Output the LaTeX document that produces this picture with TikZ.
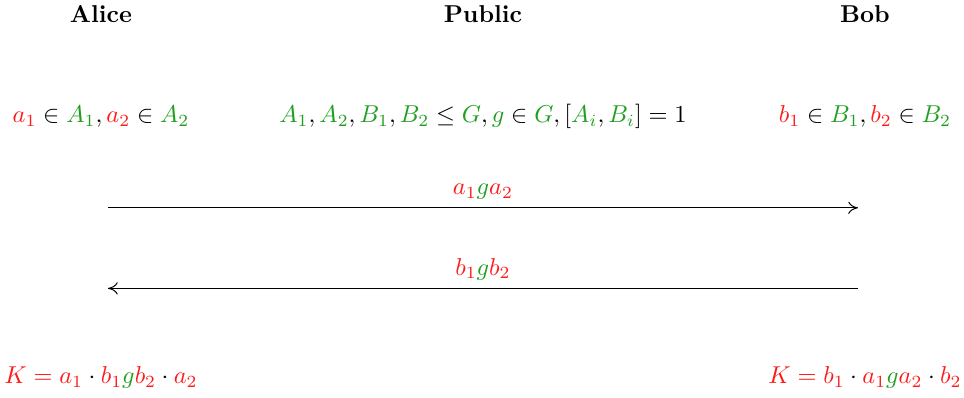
\documentclass[tikz,border=0pt]{standalone}
\usepackage{amsmath,amssymb}
\usepackage{xcolor}
\usetikzlibrary{positioning,arrows.meta}
\definecolor{secret}{HTML}{FF1A1A}
\definecolor{pub}{HTML}{1F9F1F}
\newcommand{\sk}[1]{\textcolor{secret}{#1}}
\newcommand{\pk}[1]{\textcolor{pub}{#1}}

\begin{document}
\begin{tikzpicture}[>={To[length=4pt,width=5pt]}]
  \useasboundingbox (-1.454,-5.515) rectangle (12.426,0.202);
  % parties
  \node (alice) at (0,0) {\textbf{Alice}};
  \node (public) at (5.5,0) {\textbf{Public}};
  \node (bob) at (11,0) {\textbf{Bob}};
  % private choices and public data
  \node (aliceSec) at (0,-1.48) {$\sk{a_1} \in \pk{A_1}, \sk{a_2} \in \pk{A_2}$};
  \node (pubData) at (5.5,-1.48) {$\pk{A_1}, \pk{A_2}, \pk{B_1}, \pk{B_2} \le \pk{G}, \pk{g} \in \pk{G}, [\pk{A_i}, \pk{B_i}] = 1$};
  \node (bobSec) at (11,-1.48) {$\sk{b_1} \in \pk{B_1}, \sk{b_2} \in \pk{B_2}$};
  % exchange
  \coordinate (aliceOut) at (0.1,-2.79);
  \coordinate (bobIn) at (10.9,-2.79);
  \coordinate (bobOut) at (10.9,-3.95);
  \coordinate (aliceIn) at (0.1,-3.95);
  \draw[->] (aliceOut) -- (bobIn) node[midway,above] (msgA) {$\sk{a_1}\pk{g}\sk{a_2}$};
  \draw[->] (bobOut) -- (aliceIn) node[midway,above] (msgB) {$\sk{b_1}\pk{g}\sk{b_2}$};
  % shared key
  \node (aliceK) at (0,-5.23) {$\sk{K = a_1} \cdot \sk{b_1}\pk{g}\sk{b_2} \cdot \sk{a_2}$};
  \node (bobK) at (11,-5.23) {$\sk{K = b_1} \cdot \sk{a_1}\pk{g}\sk{a_2} \cdot \sk{b_2}$};
\end{tikzpicture}
\end{document}
